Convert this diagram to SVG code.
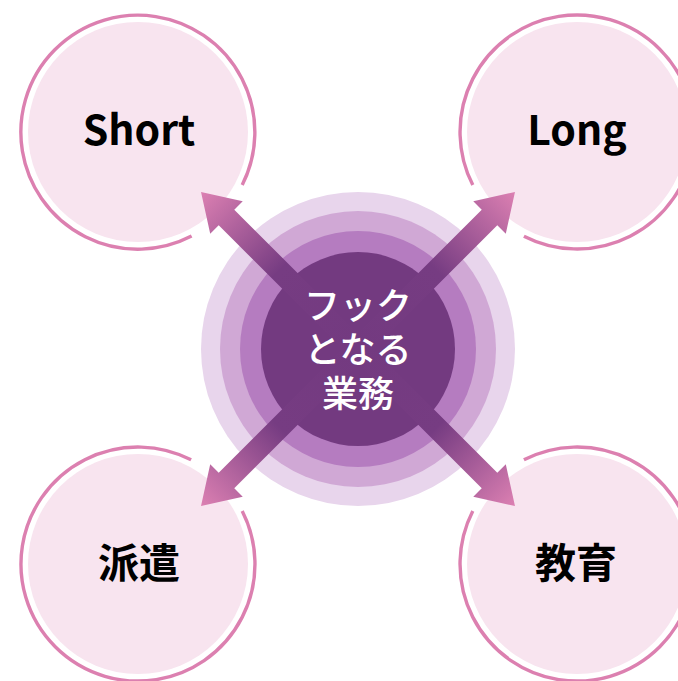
<svg xmlns="http://www.w3.org/2000/svg" width="678" height="681" viewBox="0 0 678 681">
<style>
.fill{fill:#F8E4EF}
.ring{fill:none;stroke:#DC80B0;stroke-width:3.4}
.lbl{font-family:"Noto Sans CJK JP","Noto Sans",sans-serif;font-weight:700;font-size:41px;fill:#000;text-anchor:middle}
.ctr{font-family:"Noto Sans CJK JP","Noto Sans",sans-serif;font-weight:500;font-size:36px;fill:#fff;text-anchor:middle}
</style>
<defs>
<linearGradient id="ag" x1="0" y1="0" x2="1" y2="0">
<stop offset="0" stop-color="#733A80"/>
<stop offset="0.5" stop-color="#763C82"/>
<stop offset="1" stop-color="#DC80B2"/>
</linearGradient>
<polygon id="arrow" points="0,-11 186,-11 186,-23 222,0 186,23 186,11 0,11" fill="url(#ag)"/>
</defs>
<rect width="678" height="681" fill="#fff"/>
<g id="short">
<circle class="fill" cx="138" cy="132" r="110"/>
<path class="ring" d="M191.6,236.1 A117,117 0 1 1 242.2,185.1"/>
<text class="lbl" x="139" y="145">Short</text>
</g>
<g id="long">
<circle class="fill" cx="577" cy="132" r="110"/>
<path class="ring" d="M472.8,185.1 A117,117 0 1 1 523.9,236.2"/>
<text class="lbl" x="577" y="145">Long</text>
</g>
<g id="haken">
<circle class="fill" cx="138" cy="564" r="110"/>
<path class="ring" d="M242.2,510.9 A117,117 0 1 1 191.1,459.8"/>
<text class="lbl" x="139" y="578">派遣</text>
</g>
<g id="kyouiku">
<circle class="fill" cx="577" cy="564" r="110"/>
<path class="ring" d="M523.9,459.8 A117,117 0 1 1 472.8,510.9"/>
<text class="lbl" x="576" y="578">教育</text>
</g>
<g id="hub">
<circle cx="358" cy="349" r="157" fill="#E8D5EC"/>
<circle cx="358" cy="349" r="138" fill="#D0A8D5"/>
<circle cx="358" cy="349" r="118" fill="#B57CC0"/>
<circle cx="358" cy="349" r="97" fill="#733A80"/>
</g>
<g id="connectors">
<use href="#arrow" transform="translate(358,349) rotate(-135)"/>
<use href="#arrow" transform="translate(358,349) rotate(-45)"/>
<use href="#arrow" transform="translate(358,349) rotate(135)"/>
<use href="#arrow" transform="translate(358,349) rotate(45)"/>
</g>
<g id="hub-label">
<text class="ctr" x="358" y="319">フック</text>
<text class="ctr" x="358" y="363">となる</text>
<text class="ctr" x="358" y="407">業務</text>
</g>
</svg>
